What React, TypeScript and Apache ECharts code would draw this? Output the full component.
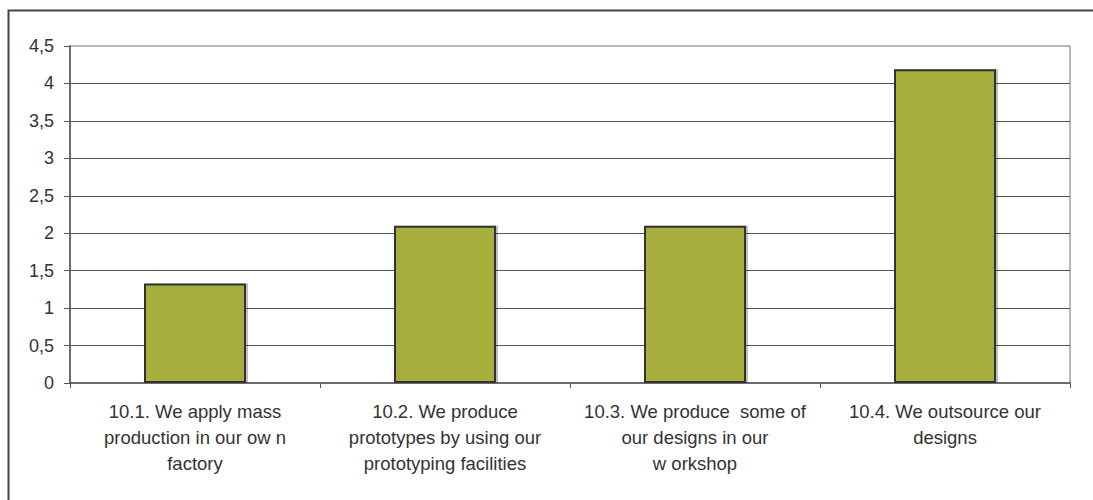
import React, { useEffect, useRef } from "react";
import * as echarts from "echarts";

// Category labels, with their line breaks as set under the axis
const categories: string[] = [
  "10.1. We apply mass\nproduction in our ow n\nfactory",
  "10.2. We produce\nprototypes by using our\nprototyping facilities",
  "10.3. We produce  some of\nour designs in our\nw orkshop",
  "10.4. We outsource our\ndesigns",
];

// Mean score per statement
const scores: number[] = [1.33, 2.1, 2.1, 4.19];

// Value axis range
const yMin = 0;
const yMax = 4.5;
const yStep = 0.5;

const FONT = "'Liberation Sans', Arial, sans-serif";
const TEXT = "#333333";

export default function App() {
  const ref = useRef<HTMLDivElement>(null);

  useEffect(() => {
    if (!ref.current) return;
    const chart = echarts.init(ref.current, undefined, { renderer: "svg" });
    chart.setOption({
      animation: false,
      backgroundColor: "#ffffff",
      textStyle: { fontFamily: FONT },
      grid: {
        left: 70,
        right: 23,
        top: 46,
        bottom: 117,
        show: true,
        borderColor: "#a89e9e",
        borderWidth: 1.5,
        backgroundColor: "transparent",
      },
      graphic: [
        {
          type: "rect",
          shape: { x: 8.5, y: 10.5, width: 1200, height: 1000 },
          style: { fill: "none", stroke: "#444444", lineWidth: 2 },
          silent: true,
          z: 10,
        },
      ],
      xAxis: {
        type: "category",
        data: categories,
        boundaryGap: true,
        axisLine: { show: true, lineStyle: { color: "#555555", width: 1.5 } },
        axisTick: { show: true, length: 5, lineStyle: { color: "#555555", width: 1 } },
        axisLabel: {
          interval: 0,
          margin: 15,
          color: TEXT,
          fontSize: 18.5,
          lineHeight: 26,
          fontFamily: FONT,
          align: "center",
        },
        splitLine: { show: false },
      },
      yAxis: {
        type: "value",
        min: yMin,
        max: yMax,
        interval: yStep,
        axisLine: { show: true, lineStyle: { color: "#555555", width: 1.5 } },
        axisTick: { show: true, length: 6, lineStyle: { color: "#555555", width: 1 } },
        axisLabel: {
          margin: 16,
          color: TEXT,
          fontSize: 18,
          fontFamily: FONT,
          formatter: (v: number) => String(v).replace(".", ","),
        },
        splitLine: {
          show: true,
          showMinLine: false,
          showMaxLine: false,
          lineStyle: { color: "#555555", width: 1 },
        },
      },
      series: [
        {
          type: "bar",
          data: scores,
          barWidth: 102,
          itemStyle: {
            color: "#a7ae3a",
            borderColor: "#333333",
            borderWidth: 2,
            shadowColor: "rgba(0,0,0,0.25)",
            shadowOffsetX: 2,
            shadowOffsetY: 0,
            shadowBlur: 0,
          },
          label: { show: false },
          z: 3,
        },
      ],
    });
    return () => chart.dispose();
  }, []);

  return (
    <div
      ref={ref}
      style={{ position: "absolute", left: 0, top: 0, width: 1093, height: 500 }}
    />
  );
}
